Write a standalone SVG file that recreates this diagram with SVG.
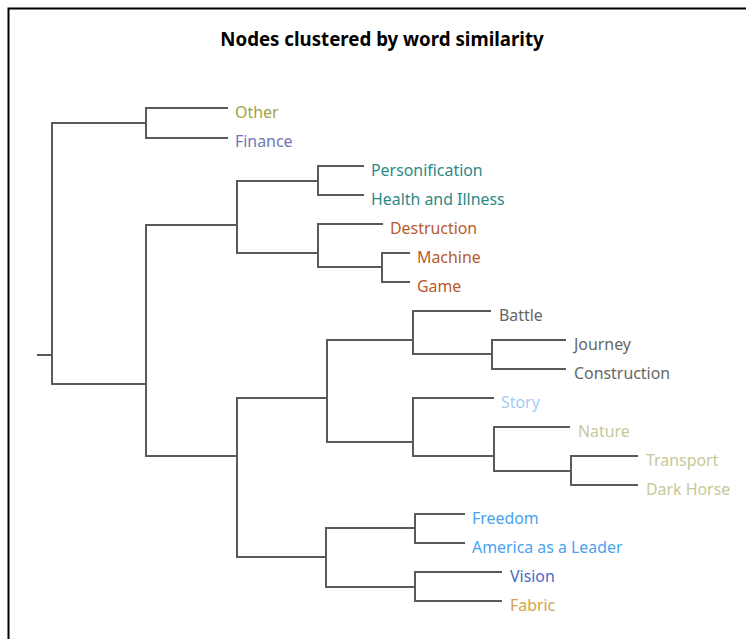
<svg xmlns="http://www.w3.org/2000/svg" width="746" height="639" viewBox="0 0 746 639">
<style>
.frame{fill:none;stroke:#000;stroke-width:2}
.ln{fill:none;stroke:#5a5a5a;stroke-width:2;stroke-linecap:square}
.lbl{font-family:"Noto Sans","Open Sans","Liberation Sans",sans-serif;font-size:15.9px}
.title{font-family:"Noto Sans","Open Sans","Liberation Sans",sans-serif;font-size:18.7px;font-weight:bold;fill:#000}
</style>
<rect width="746" height="639" fill="#fff"/>
<path class="frame" d="M8.5,639 V8.5 H746"/>
<text class="title" x="382" y="46" text-anchor="middle">Nodes clustered by word similarity</text>
<g id="connectors">
<path class="ln" d="M38,355 H52 M52,123 V384 M52,123 H146 M52,384 H146"/>
<path class="ln" d="M146,108 V138 M146,108 H227 M146,138 H227"/>
<path class="ln" d="M146,225 V456 M146,225 H237 M146,456 H237"/>
<path class="ln" d="M237,181 V253 M237,181 H318 M237,253 H318"/>
<path class="ln" d="M318,166 V195 M318,166 H363 M318,195 H363"/>
<path class="ln" d="M318,224 V267 M318,224 H382 M318,267 H382"/>
<path class="ln" d="M382,253 V282 M382,253 H409 M382,282 H409"/>
<path class="ln" d="M237,398 V557 M237,398 H327 M237,557 H326"/>
<path class="ln" d="M327,340 V442 M327,340 H413 M327,442 H413"/>
<path class="ln" d="M413,311 V354 M413,311 H490 M413,354 H492"/>
<path class="ln" d="M492,340 V369 M492,340 H565 M492,369 H565"/>
<path class="ln" d="M413,398 V456 M413,398 H493 M413,456 H494"/>
<path class="ln" d="M494,427 V471 M494,427 H569 M494,471 H571"/>
<path class="ln" d="M571,456 V485 M571,456 H637 M571,485 H637"/>
<path class="ln" d="M326,528 V587 M326,528 H415 M326,587 H415"/>
<path class="ln" d="M415,514 V543 M415,514 H464 M415,543 H464"/>
<path class="ln" d="M415,572 V601 M415,572 H501 M415,601 H501"/>
</g>
<g id="n-other"><text class="lbl" x="235" y="118" fill="#a0a242">Other</text></g>
<g id="n-finance"><text class="lbl" x="235" y="147" fill="#7474b4">Finance</text></g>
<g id="n-personification"><text class="lbl" x="371" y="176" fill="#2a8a88">Personification</text></g>
<g id="n-health"><text class="lbl" x="371" y="205" fill="#2a8a88">Health and Illness</text></g>
<g id="n-destruction"><text class="lbl" x="390" y="234" fill="#b85a2c">Destruction</text></g>
<g id="n-machine"><text class="lbl" x="417" y="263" fill="#b85a2c">Machine</text></g>
<g id="n-game"><text class="lbl" x="417" y="292" fill="#b85a2c">Game</text></g>
<g id="n-battle"><text class="lbl" x="499" y="321" fill="#666666">Battle</text></g>
<g id="n-journey"><text class="lbl" x="574" y="350" fill="#666666">Journey</text></g>
<g id="n-construction"><text class="lbl" x="574" y="379" fill="#666666">Construction</text></g>
<g id="n-story"><text class="lbl" x="501" y="408" fill="#a6ccf6">Story</text></g>
<g id="n-nature"><text class="lbl" x="578" y="437" fill="#c6c99a">Nature</text></g>
<g id="n-transport"><text class="lbl" x="646" y="466" fill="#c6c99a">Transport</text></g>
<g id="n-darkhorse"><text class="lbl" x="646" y="495" fill="#c6c99a">Dark Horse</text></g>
<g id="n-freedom"><text class="lbl" x="472" y="524" fill="#4aa2f2">Freedom</text></g>
<g id="n-america"><text class="lbl" x="472" y="553" fill="#4aa2f2">America as a Leader</text></g>
<g id="n-vision"><text class="lbl" x="510" y="582" fill="#4a68c8">Vision</text></g>
<g id="n-fabric"><text class="lbl" x="510" y="611" fill="#d4a446">Fabric</text></g>
</svg>
